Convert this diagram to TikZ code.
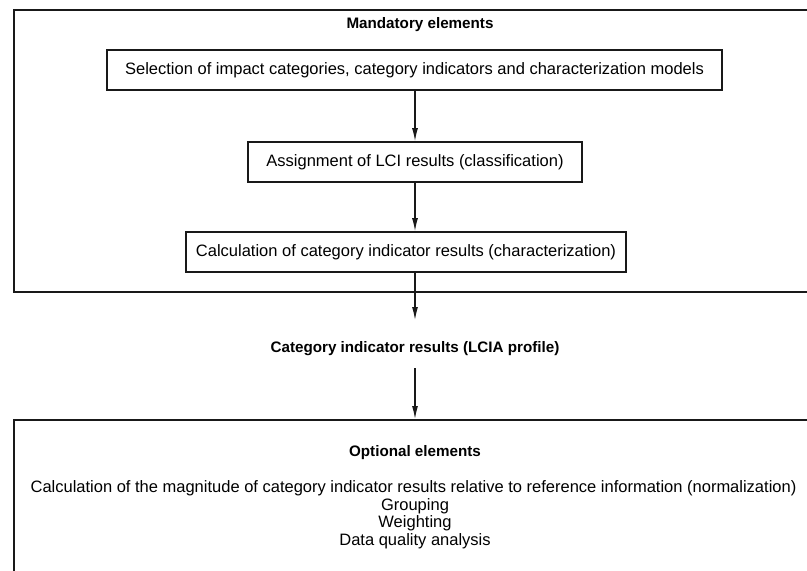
\documentclass[tikz,border=0pt]{standalone}
\usepackage{fontspec}
\setmainfont{Liberation Sans}
\usetikzlibrary{arrows.meta}
\begin{document}
\begin{tikzpicture}[x=1pt,y=-1pt,
  every node/.style={font=\fontsize{16.5}{19}\selectfont, inner sep=0pt},
  frame/.style={draw=black!90, line width=2pt, anchor=north west},
  stepbox/.style={draw=black!90, line width=1.8pt, minimum height=40pt},
  heading/.style={font=\fontsize{15.2}{18}\selectfont\bfseries},
  arr/.style={draw=black!90, line width=1.2pt, -{Latex[length=13pt,width=6pt]}}]
  \clip (0,0) rectangle (807,571);
  \fill[white] (0,0) rectangle (807,571);

  % outer frames (open to the right and below)
  \node[frame, minimum width=830pt, minimum height=282pt] (mand) at (13,9) {};
  \node[frame, minimum width=830pt, minimum height=200pt] (opt) at (13,419) {};

  % mandatory part
  \node[heading] (mtitle) at (420,25) {Mandatory elements};
  \node[stepbox, minimum width=615pt] (b1) at (414.5,70)
    {Selection of impact categories, category indicators and characterization models};
  \node[stepbox, minimum width=334pt] (b2) at (415,162)
    {Assignment of LCI results (classification)};
  \node[stepbox, minimum width=440pt] (b3) at (406,252)
    {Calculation of category indicator results (characterization)};

  \draw[arr] (b1.south -| 415,0) -- (b2.north -| 415,0);
  \draw[arr] (b2.south) -- (b2.south |- b3.north);

  % intermediate result
  \coordinate (lciaTop) at (415,320);
  \node[heading] (lcia) at (415,349) {Category indicator results (LCIA profile)};
  \coordinate (lciaBot) at (415,368);
  \draw[arr] (b3.south -| 415,0) -- (lciaTop);
  \draw[arr] (lciaBot) -- (lciaBot |- opt.north);

  % optional part
  \node[heading] (otitle) at (415,453) {Optional elements};
  \node (o1) at (413.5,488) {Calculation of the magnitude of category indicator results relative to reference information (normalization)};
  \node (o2) at (415,506) {Grouping};
  \node (o3) at (415,523) {Weighting};
  \node (o4) at (415,541) {Data quality analysis};
\end{tikzpicture}
\end{document}
